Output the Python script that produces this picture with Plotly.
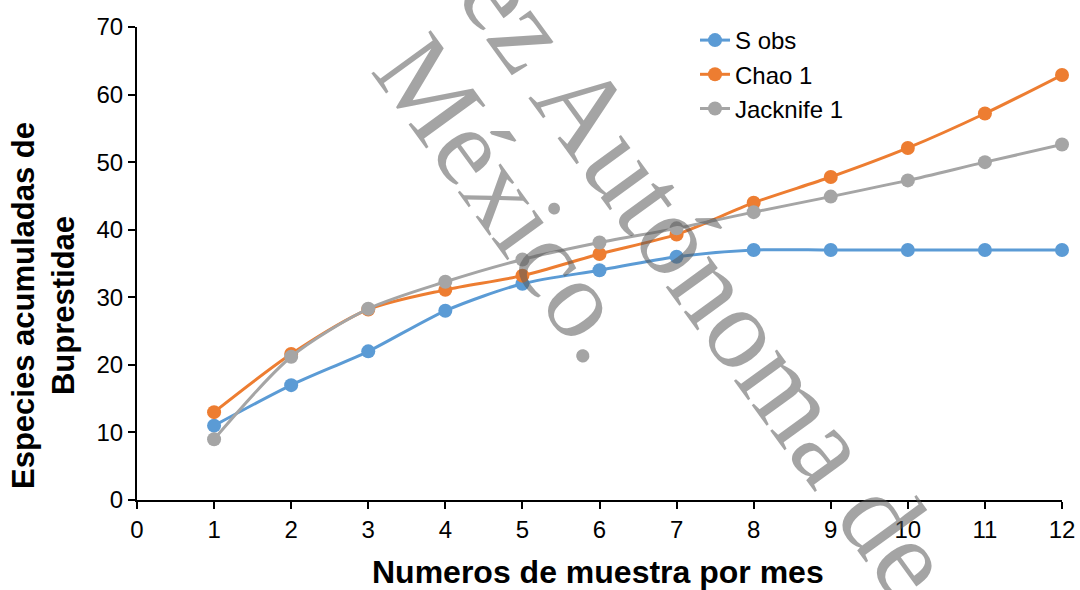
import plotly.graph_objects as go

# Monthly sample number and accumulated Buprestidae species richness
muestras = [1, 2, 3, 4, 5, 6, 7, 8, 9, 10, 11, 12]
s_obs = [11, 17, 22, 28, 32, 34, 36, 37, 37, 37, 37, 37]
chao1 = [13, 21.6, 28.2, 31.1, 33.2, 36.4, 39.3, 44.0, 47.8, 52.1, 57.2, 62.9]
jack1 = [9, 21.2, 28.3, 32.3, 35.6, 38.1, 40.2, 42.6, 44.9, 47.3, 50.0, 52.6]

series = [
    ("S obs", s_obs, "#5B9BD5"),
    ("Chao 1", chao1, "#ED7D31"),
    ("Jacknife 1", jack1, "#A5A5A5"),
]

x_ticks = list(range(0, 13))
y_ticks = list(range(0, 71, 10))

fig = go.Figure()
for name, vals, color in series:
    fig.add_trace(go.Scatter(
        x=muestras, y=vals, name=name, mode="lines+markers",
        line=dict(color=color, width=3, shape="spline", smoothing=0.8),
        marker=dict(color=color, size=14),
        cliponaxis=False,
    ))

tick_font = dict(family="Liberation Sans, Arial, sans-serif", size=24, color="#000000")
legend_font = dict(family="Liberation Sans, Arial, sans-serif", size=24, color="#000000")

fig.update_layout(
    width=1080, height=590,
    margin=dict(l=137, r=18, t=27, b=90),
    paper_bgcolor="white", plot_bgcolor="white",
    showlegend=True,
    legend=dict(
        x=(695 - 137) / 925, y=1.0 + 9 / 473, xanchor="left", yanchor="top",
        font=legend_font, bgcolor="rgba(0,0,0,0)", tracegroupgap=0,
    ),
    xaxis=dict(
        range=[0, 12], tickvals=x_ticks, ticktext=[str(v) for v in x_ticks],
        showgrid=False, zeroline=False, showline=True, linecolor="black", linewidth=2,
        ticks="outside", ticklen=7, tickwidth=1.5, tickcolor="black",
        tickfont=tick_font, automargin=False,
    ),
    yaxis=dict(
        range=[0, 70], tickvals=y_ticks, ticktext=[str(v) for v in y_ticks],
        showgrid=False, zeroline=False, showline=True, linecolor="black", linewidth=2,
        ticks="outside", ticklen=7, tickwidth=1.5, tickcolor="black",
        tickfont=tick_font, automargin=False,
    ),
)

# Axis titles
fig.add_annotation(
    text="<b>Numeros de muestra por mes</b>", xref="paper", yref="paper",
    x=(598 - 137) / 925, y=(500 - 572) / 473, xanchor="center", yanchor="middle",
    showarrow=False,
    font=dict(family="Liberation Sans, Arial, sans-serif", size=32, color="#000000"),
)
fig.add_annotation(
    text="<b>Especies acumuladas de<br>Buprestidae</b>", xref="paper", yref="paper",
    x=(43 - 137) / 925, y=(500 - 306) / 473, xanchor="center", yanchor="middle",
    textangle=-90, showarrow=False,
    font=dict(family="Liberation Sans, Arial, sans-serif", size=31, color="#000000"),
)

# Diagonal document watermark
wm_color = "rgba(90,90,90,0.55)"
fig.add_annotation(
    text="Juárez Autónoma de", xref="paper", yref="paper",
    x=(650 - 137) / 925, y=(500 - 199) / 473, xanchor="center", yanchor="middle",
    textangle=54, showarrow=False,
    font=dict(family="Liberation Serif, Times New Roman, serif", size=116, color=wm_color),
)
fig.add_annotation(
    text="México.", xref="paper", yref="paper",
    x=(509 - 137) / 925, y=(500 - 198) / 473, xanchor="center", yanchor="middle",
    textangle=54, showarrow=False,
    font=dict(family="Liberation Serif, Times New Roman, serif", size=112, color=wm_color),
)

fig.write_html("out.html")
